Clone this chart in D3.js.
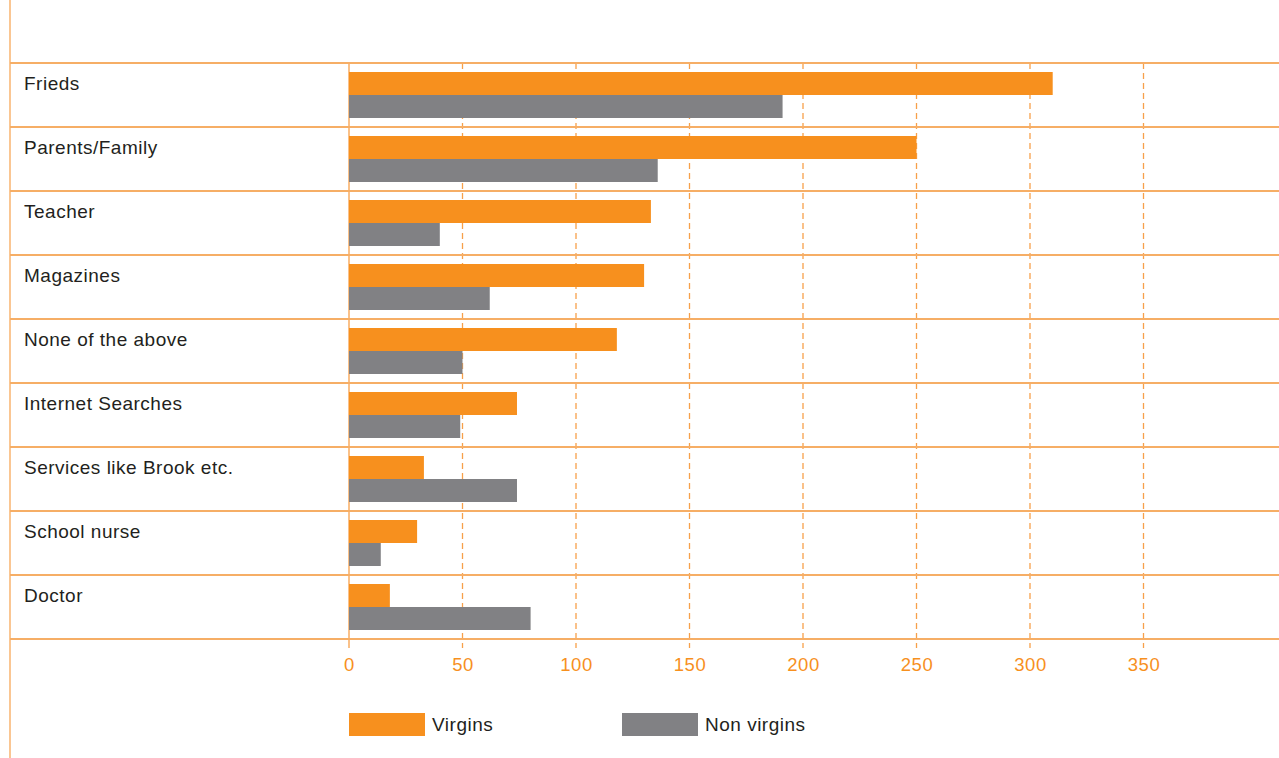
<!DOCTYPE html>
<html>
<head>
<meta charset="utf-8">
<script src="https://cdn.jsdelivr.net/npm/d3@7"></script>
<style>
  html, body { margin: 0; padding: 0; background: #fff; }
  svg { display: block; font-family: "Liberation Sans", Arial, sans-serif; letter-spacing: 0.5px; }
</style>
</head>
<body>
<svg id="chart" width="1279" height="758"></svg>
<script>
// Sources of sex education, by group
const categories = ["Frieds", "Parents/Family", "Teacher", "Magazines", "None of the above",
  "Internet Searches", "Services like Brook etc.", "School nurse", "Doctor"];
const seriesNames = ["Virgins", "Non virgins"];
const virgins    = [310, 250, 133, 130, 118, 74, 33, 30, 18];
const nonVirgins = [191, 136, 40, 62, 50, 49, 74, 14, 80];
const tickValues = [0, 50, 100, 150, 200, 250, 300, 350];
const colors = ["#F7901E", "#818184"];

const rows = categories.map((c, i) => ({ category: c, values: [virgins[i], nonVirgins[i]] }));

const svg = d3.select("#chart");
const W = 1279, H = 758;
const frameLeft = 10;
const plotTop = 63, plotBottom = 639;
const fontFamily = "'Liberation Sans', Arial, sans-serif";

const x = d3.scaleLinear().domain([0, 350]).range([349, 1143.5]);
const y = d3.scaleBand().domain(categories).range([plotTop, plotBottom]).padding(0);
const inner = d3.scaleBand().domain(seriesNames).range([9, 55]).padding(0);
const color = d3.scaleOrdinal().domain(seriesNames).range(colors);

// left frame line
svg.append("line")
  .attr("x1", frameLeft).attr("x2", frameLeft)
  .attr("y1", 0).attr("y2", H)
  .attr("stroke", "#F7A04A").attr("stroke-width", 1.2);

// dashed value grid
svg.append("g").selectAll("line")
  .data(tickValues.filter(d => d > 0))
  .join("line")
  .attr("x1", d => x(d)).attr("x2", d => x(d))
  .attr("y1", plotTop).attr("y2", plotBottom + 9)
  .attr("stroke", "#F7A04A").attr("stroke-width", 1.3)
  .attr("stroke-dasharray", "6,4");

// zero line
svg.append("line")
  .attr("x1", x(0)).attr("x2", x(0))
  .attr("y1", plotTop).attr("y2", plotBottom + 9)
  .attr("stroke", "#F7A04A").attr("stroke-width", 1.3);

// row separators
const seps = categories.map(c => y(c)).concat([plotBottom]);
svg.append("g").selectAll("line")
  .data(seps)
  .join("line")
  .attr("x1", frameLeft).attr("x2", W)
  .attr("y1", d => d).attr("y2", d => d)
  .attr("stroke", "#F6AE66").attr("stroke-width", 2);

// bars
const groups = svg.append("g").selectAll("g")
  .data(rows)
  .join("g")
  .attr("transform", d => `translate(0,${y(d.category)})`);

groups.selectAll("rect")
  .data(d => d.values.map((v, i) => ({ key: seriesNames[i], value: v })))
  .join("rect")
  .attr("x", x(0))
  .attr("y", d => inner(d.key))
  .attr("width", d => x(d.value) - x(0))
  .attr("height", inner.bandwidth())
  .attr("fill", d => color(d.key));

// category labels
groups.append("text")
  .attr("x", 24)
  .attr("y", 27)
  .attr("font-size", 19)
  .attr("fill", "#231F20")
  .text(d => d.category);

// value axis labels
const axis = d3.axisBottom(x).tickValues(tickValues).tickSize(0).tickPadding(0).tickFormat(d3.format("d"));
const ax = svg.append("g").attr("transform", `translate(0,${plotBottom})`).call(axis);
ax.select(".domain").remove();
ax.selectAll("text")
  .attr("dy", null)
  .attr("y", 32)
  .attr("font-size", 18.5)
  .attr("font-family", fontFamily)
  .attr("fill", "#F7901E");

// legend
const legendX = d3.scaleOrdinal().domain(seriesNames).range([349, 622]);
const leg = svg.append("g").selectAll("g")
  .data(seriesNames)
  .join("g")
  .attr("transform", d => `translate(${legendX(d)},713)`);
leg.append("rect")
  .attr("width", 76).attr("height", 23)
  .attr("fill", d => color(d));
leg.append("text")
  .attr("x", 83).attr("y", 18)
  .attr("font-size", 19)
  .attr("fill", "#231F20")
  .text(d => d);
</script>
</body>
</html>
